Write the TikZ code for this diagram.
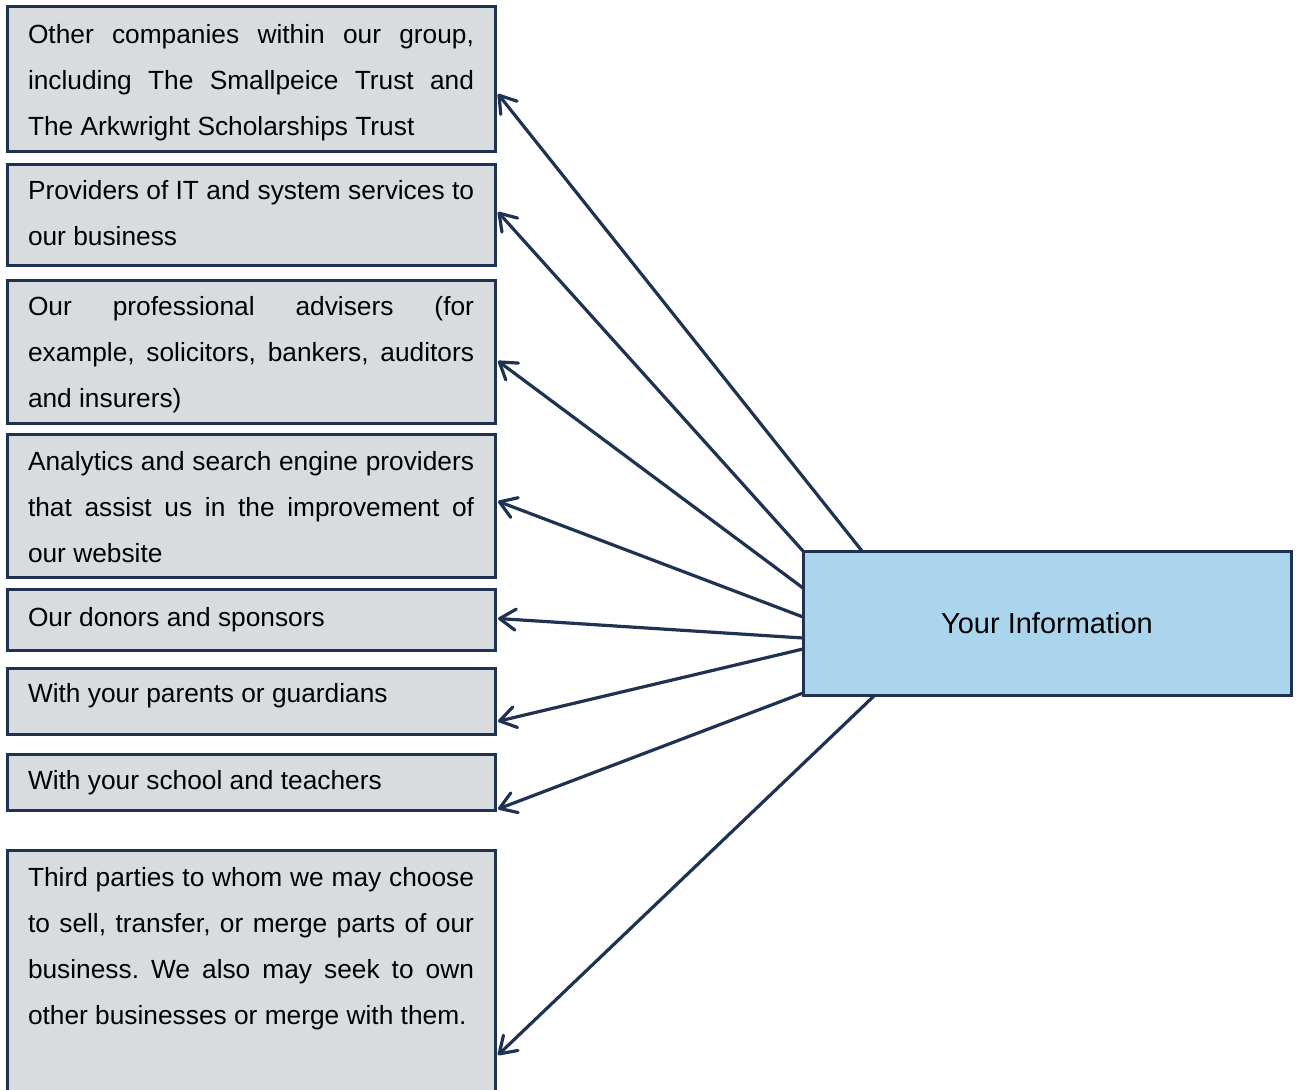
\documentclass[tikz,border=0pt]{standalone}
\usepackage{fontspec}
\setmainfont{Liberation Sans}
\usetikzlibrary{arrows.meta,calc}
\definecolor{navy}{HTML}{1F3251}
\definecolor{boxgrey}{HTML}{D8DCDF}
\definecolor{infoblue}{HTML}{AAD5EC}
\frenchspacing
\begin{document}
\begin{tikzpicture}[x=1pt,y=-1pt,
  srcbox/.style={draw=navy, line width=3pt, fill=boxgrey, anchor=north west, outer sep=0pt,
    inner xsep=21pt, inner ysep=0pt, text width=446pt, align=justify,
    font=\fontsize{26.3}{46}\selectfont},
  infobox/.style={draw=navy, line width=3pt, fill=infoblue, minimum width=488pt, outer sep=0pt,
    minimum height=144pt, inner sep=0pt, font=\fontsize{29}{34}\selectfont},
  arr/.style={draw=navy, line width=3.2pt,
    -{Straight Barb[length=16pt,width=21pt,line cap=round,line join=round]}}]
\useasboundingbox (0,0) rectangle (1297,1089);
\clip (0,0) rectangle (1297,1089);

\node[srcbox, text height=37pt, text depth=107pt] (b1) at (7,7)
  {Other companies within our group,\linebreak including The Smallpeice Trust and\linebreak The Arkwright Scholarships Trust};
\node[srcbox, text height=35.3pt, text depth=66.2pt] (b2) at (7,164)
  {Providers of IT and system services to\linebreak our business};
\node[srcbox, text height=35.3pt, text depth=108pt] (b3) at (7,280)
  {Our professional advisers (for\linebreak example, solicitors, bankers, auditors\linebreak and insurers)};
\node[srcbox, text height=36pt, text depth=107pt] (b4) at (7,434.3)
  {Analytics and search engine providers\linebreak that assist us in the improvement of\linebreak our website};
\node[srcbox, text height=37pt, text depth=24pt] (b5) at (7,589)
  {Our donors and sponsors};
\node[srcbox, text height=34.4pt, text depth=31.3pt] (b6) at (7,668.3)
  {With your parents or guardians};
\node[srcbox, text height=35.3pt, text depth=21.4pt] (b7) at (7,754)
  {With your school and teachers};
\node[srcbox, text height=36pt, text depth=214pt] (b8) at (7,850)
  {Third parties to whom we may choose\linebreak to sell, transfer, or merge parts of our\linebreak business. We also may seek to own\linebreak other businesses or merge with them.};

\node[infobox] (Y) at (1047,623) {Your Information};

\draw[arr] ($(Y.north west)+(59,0)$) -- ($(b1.north east)+(3,87)$);
\draw[arr] (Y.north west) -- ($(b2.north east)+(3,48)$);
\draw[arr] ($(Y.north west)+(0,37)$) -- ($(b3.north east)+(3,81)$);
\draw[arr] ($(Y.north west)+(0,66)$) -- ($(b4.north east)+(3,67)$);
\draw[arr] ($(Y.north west)+(0,87)$) -- ($(b5.north east)+(3,29.5)$);
\draw[arr] ($(Y.north west)+(0,98)$) -- ($(b6.north east)+(3,53)$);
\draw[arr] ($(Y.north west)+(0,142)$) -- ($(b7.north east)+(3,55)$);
\draw[arr] ($(Y.south west)+(72,0)$) -- ($(b8.north east)+(3,205)$);
\end{tikzpicture}
\end{document}
